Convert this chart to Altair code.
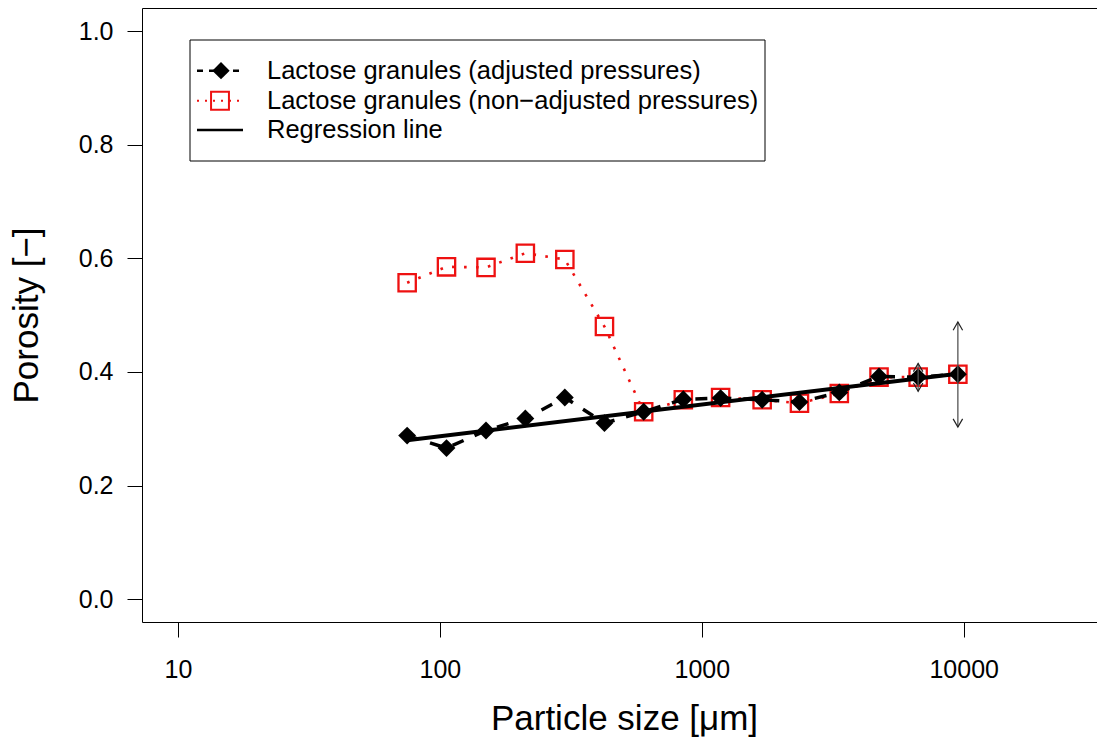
import altair as alt
import pandas as pd

# ---- data ----
sizes = [75, 106, 150, 212, 300, 425, 600, 850, 1180, 1700, 2360, 3350, 4750, 6700, 9500]
porosity_adj = [0.288, 0.266, 0.297, 0.318, 0.355, 0.310, 0.330, 0.352, 0.354, 0.351,
                0.347, 0.364, 0.392, 0.391, 0.396]
porosity_nonadj = [0.557, 0.585, 0.584, 0.609, 0.598, 0.480, 0.330, 0.351, 0.355, 0.351,
                   0.345, 0.362, 0.391, 0.391, 0.396]
reg_x = [75, 9500]
reg_y = [0.280, 0.397]
err_x = [6700, 9500]
err_lo = [0.366, 0.303]
err_hi = [0.415, 0.488]
x_ticks = [10, 100, 1000, 10000]
y_ticks = [0.0, 0.2, 0.4, 0.6, 0.8, 1.0]
legend_labels = ["Lactose granules (adjusted pressures)",
                 "Lactose granules (non\u2212adjusted pressures)",
                 "Regression line"]

FONT = "Liberation Sans"
RED = "#EE1111"

df_adj = pd.DataFrame({"size": sizes, "por": porosity_adj})
df_non = pd.DataFrame({"size": sizes, "por": porosity_nonadj})
df_reg = pd.DataFrame({"size": reg_x, "por": reg_y})
df_err = pd.DataFrame({"size": err_x, "lo": err_lo, "hi": err_hi})

xscale = alt.Scale(type="log", domain=[7.29, 32280], nice=False)
yscale = alt.Scale(domain=[-0.04, 1.0405], nice=False, zero=False)

xaxis = alt.Axis(values=x_ticks, format="d", title="Particle size [\u03bcm]",
                 labelFontSize=25, labelFont=FONT, labelColor="black",
                 tickSize=15, tickColor="black", labelPadding=20,
                 grid=False, domain=False, labelFlush=False, labelOverlap=False,
                 titleFontSize=35, titleFont=FONT, titleFontWeight="normal",
                 titleColor="black", titleX=482, titleY=107,
                 titleBaseline="alphabetic", titleAlign="center")
yaxis = alt.Axis(values=y_ticks, format=".1f", title="Porosity [\u2212]",
                 labelFontSize=25, labelFont=FONT, labelColor="black",
                 tickSize=15, tickColor="black", labelPadding=14,
                 grid=False, domain=False, labelFlush=False, labelOverlap=False,
                 titleFontSize=35, titleFont=FONT, titleFontWeight="normal",
                 titleColor="black", titleX=-105, titleY=307, titleAngle=270,
                 titleBaseline="alphabetic", titleAlign="center")


def X(field="size"):
    return alt.X(f"{field}:Q", scale=xscale, axis=xaxis)


def Y(field="por"):
    return alt.Y(f"{field}:Q", scale=yscale, axis=yaxis)


red_line = alt.Chart(df_non).mark_line(color=RED, strokeWidth=2.6, strokeDash=[2.6, 9.4],
                                       strokeCap="butt").encode(x=X(), y=Y())
red_pts = alt.Chart(df_non).mark_point(shape="square", size=300, filled=False, color=RED,
                                       strokeWidth=2.3, opacity=1).encode(x=X(), y=Y())
blk_line = alt.Chart(df_adj).mark_line(color="black", strokeWidth=3.5,
                                       strokeDash=[12, 12]).encode(x=X(), y=Y())
blk_pts = alt.Chart(df_adj).mark_point(shape="diamond", size=320, filled=True, color="black",
                                       opacity=1).encode(x=X(), y=Y())
reg = alt.Chart(df_reg).mark_line(color="black", strokeWidth=4).encode(x=X(), y=Y())

shaft = alt.Chart(df_err).mark_rule(color="#555555", strokeWidth=1.3).encode(
    x=X(), y=Y("lo"), y2="hi:Q")
head_up = alt.Chart(df_err).mark_point(
    shape="M-0.5,0.866L0,0L0.5,0.866", size=360, filled=False, color="#222222",
    strokeWidth=1.2, opacity=1).encode(x=X(), y=Y("hi"))
head_dn = alt.Chart(df_err).mark_point(
    shape="M-0.5,-0.866L0,0L0.5,-0.866", size=360, filled=False, color="#222222",
    strokeWidth=1.2, opacity=1).encode(x=X(), y=Y("lo"))

# ---- legend drawn by hand (positions in pixels of the plot area) ----
one = alt.Data(values=[{}])
lg_box = alt.Chart(one).mark_rect(fill="white", stroke="black", strokeWidth=1).encode(
    x=alt.value(48), x2=alt.value(623), y=alt.value(32), y2=alt.value(153))
rows_y = [62.7, 92.7, 122]
lg_l1 = alt.Chart(one).mark_rule(color="black", strokeWidth=2.5, strokeDash=[6, 6]).encode(
    x=alt.value(55), x2=alt.value(101), y=alt.value(rows_y[0]))
lg_p1 = alt.Chart(one).mark_point(shape="diamond", size=300, filled=True, color="black",
                                  opacity=1).encode(x=alt.value(79), y=alt.value(rows_y[0]))
lg_l2 = alt.Chart(one).mark_rule(color=RED, strokeWidth=2, strokeDash=[2, 6]).encode(
    x=alt.value(55), x2=alt.value(101), y=alt.value(rows_y[1]))
lg_p2 = alt.Chart(one).mark_point(shape="square", size=320, filled=False, color=RED,
                                  strokeWidth=2, opacity=1).encode(x=alt.value(78), y=alt.value(rows_y[1]))
lg_l3 = alt.Chart(one).mark_rule(color="black", strokeWidth=2.5).encode(
    x=alt.value(55), x2=alt.value(101), y=alt.value(rows_y[2]))
lg_texts = [
    alt.Chart(one).mark_text(text=lab, align="left", baseline="middle", fontSize=25.5,
                             font=FONT, color="black").encode(x=alt.value(125), y=alt.value(yy))
    for lab, yy in zip(legend_labels, rows_y)
]

chart = alt.layer(
    red_line, red_pts, blk_line, blk_pts, reg, shaft, head_up, head_dn,
    lg_box, lg_l1, lg_p1, lg_l2, lg_p2, lg_l3, *lg_texts
).properties(
    width=955, height=614,
    autosize=alt.AutoSizeParams(type="none"),
    padding={"left": 142, "top": 8, "right": 0, "bottom": 116},
    background="white",
).configure_view(stroke="black", strokeWidth=1)

chart.save("out.html", embed_options={"renderer": "svg", "actions": False})
